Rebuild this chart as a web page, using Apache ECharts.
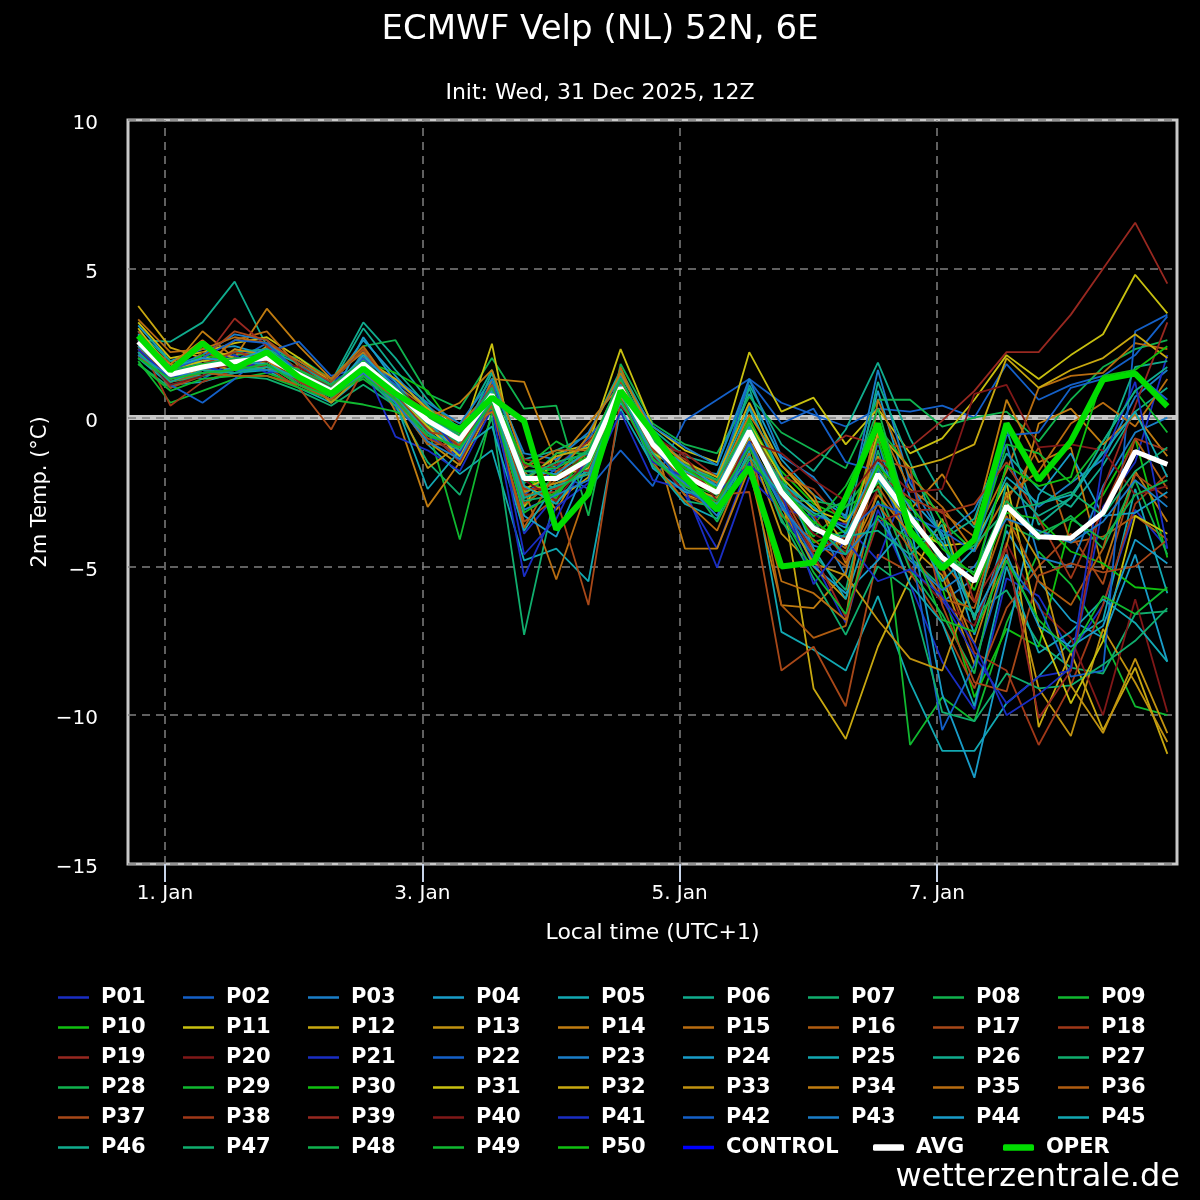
<!DOCTYPE html>
<html>
<head>
<meta charset="utf-8">
<title>ECMWF Velp (NL) 52N, 6E</title>
<script src="https://cdn.jsdelivr.net/npm/echarts@6/dist/echarts.min.js"></script>
<style>
  html, body { margin: 0; padding: 0; background: #000; }
  #main { width: 1200px; height: 1200px; }
</style>
</head>
<body>
<div id="main"></div>
<script>
// forecast steps, hours after 1 Jan 00:00 local time (31 Dec 18Z .. 8 Jan 18Z)
var hours = [-5, 1, 7, 13, 19, 25, 31, 37, 43, 49, 55, 61, 67, 73, 79, 85, 91,
    97, 103, 109, 115, 121, 127, 133, 139, 145, 151, 157, 163, 169, 175, 181, 187];

// x axis tick labels
var tickHours = [0, 48, 96, 144];
var tickLabels = ['1. Jan', '3. Jan', '5. Jan', '7. Jan'];

// 2m temperature, ensemble members (°C)
var p01 = [2.2, 1.2, 1.5, 2.1, 2.3, 1.6, 1.0, 1.5, 0.3, -0.6, -1.3, 0.4, -3.9, -2.6, -1.0, 0.6, -1.2, -2.6, -4.4, -1.5, -3.2, -4.8, -6.9, -3.1, -5.6, -8.2, -9.8, -5.4, -6.0, -7.9, -6.3, -3.1, -4.4];
var p02 = [2.9, 1.6, 1.3, 1.9, 2.5, 1.8, 0.7, 2.0, 1.2, 0.4, -0.5, 1.2, -1.6, -1.8, -2.4, -1.1, -2.3, -0.1, 0.6, 1.3, 0.5, 0.1, -0.3, 0.3, 0.2, 0.4, 0.0, 1.8, 0.6, 1.1, 1.4, 2.1, 3.4];
var p03 = [2.4, 1.4, 2.0, 1.7, 1.8, 1.2, 0.6, 2.2, 1.0, -0.4, -1.0, 0.9, -2.7, -2.3, -1.8, 1.2, -1.3, -2.2, -2.9, 0.4, -2.1, -3.4, -5.3, -0.8, -4.4, -6.2, -5.4, -1.6, -3.0, -2.2, -1.4, 0.7, 1.6];
var p04 = [3.1, 1.9, 2.3, 2.4, 2.1, 1.5, 1.1, 2.6, 1.4, 0.2, -0.3, 0.5, -2.2, -1.6, -0.9, 0.9, -0.7, -1.7, -1.9, 0.8, -1.4, -2.6, -3.3, 0.9, -2.7, -3.9, -7.3, -3.8, -5.5, -6.8, -7.4, -4.6, -8.2];
var p05 = [2.0, 1.1, 1.2, 1.5, 1.6, 1.0, 0.5, 1.4, 0.6, -0.9, -1.9, -1.1, -4.8, -4.4, -5.5, 0.3, -1.6, -2.9, -3.4, -1.1, -7.2, -7.8, -8.5, -6.0, -8.9, -11.2, -11.2, -9.6, -8.7, -7.5, -6.8, -2.4, -5.9];
var p06 = [2.6, 2.55, 3.2, 4.57, 2.4, 1.9, 1.2, 3.2, 2.0, 0.6, -0.4, 1.6, -1.4, -1.1, -0.6, 1.6, -0.4, -1.3, -1.6, 1.1, -0.9, -1.8, -0.4, 1.85, -0.7, -2.6, -3.7, -1.2, -2.4, -3.0, -1.6, 0.2, 1.0];
var p07 = [1.8, 1.0, 1.6, 1.4, 1.3, 0.9, 0.4, 1.1, 0.4, -1.5, -2.6, 0.0, -7.3, -2.4, -1.6, 1.1, -1.4, -2.1, -2.8, -0.7, -3.5, -4.6, -5.8, -1.1, -4.7, -5.7, -6.6, -5.8, -7.6, -8.4, -8.6, -6.6, -6.5];
var p08 = [2.3, 1.7, 1.9, 2.1, 2.2, 2.0, 1.3, 2.4, 2.6, 0.8, 0.3, 2.0, 0.3, 0.4, -3.3, 1.8, -0.2, -0.9, -1.2, 0.7, -0.5, -1.1, -1.7, 0.6, 0.6, -0.3, 0.0, 0.2, -0.8, 0.6, 1.7, 2.3, 2.6];
var p09 = [1.9, 0.5, 0.9, 1.3, 1.5, 1.1, 0.8, 1.3, 0.5, -0.3, -4.1, 0.2, -3.0, -1.9, -1.1, 0.7, -0.8, -2.3, -2.9, -0.9, -2.6, -4.0, -3.0, -1.6, -11.0, -9.4, -10.2, -6.9, -4.5, -5.6, -7.4, -9.7, -10.0];
var p10 = [2.1, 1.3, 1.5, 1.6, 1.9, 1.4, 1.0, 1.9, 1.5, 0.9, -0.6, 0.6, -2.5, -1.5, -1.5, 0.8, -1.0, -1.5, -2.1, -0.3, -1.8, -2.9, -3.4, -2.2, -2.8, -5.7, -9.4, -7.1, -7.7, -3.5, -2.6, -0.7, -4.7];
var p11 = [3.2, 2.0, 2.2, 2.5, 2.7, 2.0, 1.2, 2.3, 0.9, 0.1, -0.8, 2.48, -3.0, -1.2, -0.9, 2.3, -0.3, -1.1, -1.5, 2.2, 0.2, 0.67, -0.9, 0.3, -1.2, -0.7, 0.6, 2.1, 1.3, 2.1, 2.8, 4.8, 3.5];
var p12 = [3.75, 2.35, 2.0, 2.2, 2.0, 1.5, 0.9, 1.6, 0.8, -0.2, -1.1, 1.0, -2.3, -2.8, -2.0, 1.3, -1.1, -2.6, -2.9, -0.5, -2.4, -9.1, -10.8, -7.7, -5.4, -3.4, -6.8, -2.5, -10.4, -7.9, -10.5, -8.4, -11.3];
var p13 = [2.7, 1.5, 1.8, 1.6, 2.4, 1.6, 0.7, 1.7, 0.6, -0.8, -1.6, 0.4, -1.8, -3.1, -1.3, 0.9, -1.2, -2.3, -2.8, -0.9, -3.9, -5.0, -6.1, -1.3, -4.3, -5.3, -8.3, -4.6, -9.1, -10.7, -7.1, -8.9, -10.9];
var p14 = [2.2, 1.6, 2.9, 2.0, 3.66, 2.4, 1.3, 2.2, 0.2, -3.0, -1.5, 1.3, 1.2, -1.5, -0.2, 1.1, -0.6, -4.4, -4.4, -1.7, -6.3, -6.4, -5.2, -0.6, -3.1, -1.9, -3.6, 0.6, -1.5, -1.0, -5.1, -1.8, -3.5];
var p15 = [2.8, 1.8, 1.7, 2.6, 2.9, 1.7, 1.1, 1.8, 1.1, 0.3, -0.2, 0.9, -2.4, -5.44, -2.3, 1.7, -0.9, -1.8, -2.3, -0.4, -2.2, -3.6, -4.4, -0.2, -2.4, -3.2, -4.0, -1.8, 1.0, 1.4, 1.5, 2.5, 2.3];
var p16 = [2.5, 1.3, 2.2, 1.9, 2.1, 1.3, 0.9, 2.0, 0.8, -0.3, -0.9, 0.6, -2.9, -2.1, -1.6, 1.1, -1.1, -2.6, -3.1, -0.6, -6.3, -7.4, -7.0, -2.3, -4.0, -4.8, -6.2, -2.8, -1.0, -4.2, -4.0, -3.3, -4.1];
var p17 = [2.4, 1.0, 1.4, 2.3, 1.7, 1.0, -0.4, 1.6, 0.7, -0.7, -1.2, 0.3, -3.5, -2.7, -6.3, 0.6, -1.5, -2.0, -2.6, -2.5, -8.5, -7.7, -9.7, -4.6, -5.2, -6.9, -9.1, -6.4, -5.0, -3.9, -5.6, -1.9, -2.7];
var p18 = [2.6, 0.4, 1.2, 1.6, 1.8, 1.2, 0.8, 1.5, 1.1, 0.0, -0.7, 0.8, -1.9, -2.4, -1.0, 1.0, -0.8, -1.4, -2.2, -0.1, -2.0, -2.4, -3.6, -1.7, -3.3, -5.1, -7.9, -8.5, -11.0, -9.0, -6.3, -2.9, -1.9];
var p19 = [2.0, 1.4, 1.9, 3.33, 2.4, 1.6, 1.0, 1.9, 0.9, -0.2, -0.5, 0.5, -1.4, -1.6, -0.8, 0.4, -0.9, -1.2, -2.0, -0.8, -2.1, -1.4, -0.6, -0.9, -1.0, -0.1, 0.9, 2.2, 2.2, 3.46, 5.0, 6.55, 4.5];
var p20 = [2.3, 1.2, 1.6, 1.8, 2.0, 1.4, 0.9, 1.9, 1.0, -0.2, -0.8, 0.9, -2.0, -1.9, -1.3, 0.8, -1.3, -2.5, -3.0, -1.0, -2.7, -3.9, -4.5, -2.4, -5.0, -6.2, -7.0, -4.2, -6.4, -7.4, -10.0, -6.1, -9.9];
var p21 = [2.5, 1.5, 1.9, 2.1, 1.5, 1.7, 1.2, 1.8, -0.64, -1.1, -1.8, 0.3, -5.34, -3.0, -2.2, 0.2, -2.1, -2.4, -5.04, -2.0, -3.1, -3.3, -3.6, -4.8, -1.9, -6.1, -8.0, -9.6, -8.7, -8.5, -3.0, -1.5, 2.1];
var p22 = [2.2, 1.1, 0.5, 1.3, 2.2, 2.55, 1.4, 1.7, 0.7, -0.5, -1.4, 0.5, -2.6, -1.7, -0.7, 0.7, -0.5, -1.9, -2.2, 1.25, -0.2, 0.3, -1.5, -1.8, -4.2, -10.5, -8.3, -4.8, -6.3, -8.7, -8.5, 2.9, 3.46];
var p23 = [2.8, 1.7, 2.1, 2.8, 2.6, 1.4, 0.8, 1.9, 1.3, 0.5, -0.2, 1.3, -1.2, -1.4, -0.5, 1.4, -0.3, -1.0, -1.6, 1.3, -1.3, -2.0, -3.4, 1.6, -2.2, -4.0, -3.1, -0.9, -4.7, -5.0, -2.3, -0.5, 0.0];
var p24 = [2.4, 1.3, 1.7, 1.9, 1.8, 1.1, 0.6, 2.7, 1.2, -0.1, -1.3, 0.7, -3.3, -4.0, -1.5, 1.0, -1.7, -2.5, -2.7, -0.4, -2.8, -5.0, -5.9, -4.8, -3.5, -9.3, -12.1, -7.4, -2.6, -1.2, -3.3, -3.2, -2.5];
var p25 = [2.1, 1.5, 1.4, 1.7, 1.9, 1.2, 0.7, 1.6, 0.5, -2.4, -1.1, -0.3, -3.8, -2.2, -1.7, 0.5, -1.0, -1.6, -2.1, 0.3, -1.9, -4.4, -6.1, -2.8, -5.6, -6.9, -9.7, -5.0, -7.9, -7.2, -6.1, -6.9, -8.2];
var p26 = [2.9, 1.9, 1.8, 2.2, 2.3, 1.8, 1.1, 3.0, 1.6, 0.4, -0.9, 1.5, -1.9, -2.4, -1.8, 1.5, -0.6, -1.5, -2.4, 1.0, -2.3, -3.0, -3.9, 1.2, -1.5, -4.1, -3.4, -0.4, -3.6, -2.7, -1.1, 1.7, 1.9];
var p27 = [2.0, 1.2, 1.4, 1.6, 1.7, 1.5, 1.0, 1.4, 0.4, -0.6, -1.0, 0.4, -2.8, -2.6, -1.4, 0.9, -1.6, -2.8, -3.0, -0.9, -3.4, -5.4, -7.3, -5.0, -5.8, -9.9, -10.2, -8.6, -9.1, -9.0, -8.3, -7.5, -6.4];
var p28 = [2.3, 1.4, 1.7, 1.8, 2.3, 1.6, 0.9, 2.1, 1.0, -0.4, -0.8, 1.1, -2.2, -1.2, -1.2, 1.3, -0.7, -2.0, -3.5, -1.4, -2.8, -2.8, -3.0, -2.4, -5.1, -6.6, -8.6, -3.6, -4.1, -3.3, -4.4, -2.1, -4.6];
var p29 = [1.8, 0.9, 1.3, 1.4, 1.4, 1.0, 0.6, 0.44, 0.2, -0.3, -0.3, 0.3, -1.7, -0.8, -1.4, 1.2, -1.2, -1.5, -2.5, 0.0, -2.3, -3.6, -2.3, -0.3, -1.7, -3.5, -4.5, -0.9, -1.2, -2.2, -0.8, 0.9, -0.5];
var p30 = [2.6, 1.5, 2.1, 1.9, 2.0, 1.6, 0.8, 1.8, 0.8, -0.1, -0.7, 0.8, -2.0, -2.7, -1.0, 1.1, -0.8, -2.2, -2.6, -0.1, -2.0, -4.2, -3.8, -0.7, -4.0, -4.2, -5.8, -3.2, -3.4, -4.5, -4.9, -5.7, -5.8];
var p31 = [3.0, 1.6, 1.9, 2.0, 1.9, 1.3, 0.7, 1.8, 0.8, -0.3, -1.3, 0.9, -2.4, -1.9, -1.7, 0.8, -1.2, -1.8, -2.4, -0.2, -2.0, -3.1, -3.5, -2.1, -3.6, -4.3, -4.2, -2.2, -7.0, -9.6, -7.5, -3.3, -3.9];
var p32 = [2.7, 1.7, 2.4, 2.0, 1.6, 1.7, 1.0, 2.0, 1.3, 0.3, -0.6, 1.0, -2.1, -1.3, -1.0, 1.2, -0.7, -1.5, -2.0, 0.5, -1.6, -2.8, -4.3, -0.5, -1.7, -1.4, -0.9, 2.0, 1.0, 1.6, 2.0, 2.8, 2.0];
var p33 = [2.5, 1.3, 1.6, 2.3, 2.1, 1.5, 0.5, 1.5, 0.6, -1.7, -0.9, 0.7, -2.5, -2.2, -1.9, 0.7, -1.4, -2.3, -2.7, -0.7, -3.0, -4.9, -5.3, -6.8, -8.1, -8.5, -5.4, -3.0, -4.8, -9.0, -10.6, -8.1, -10.6];
var p34 = [2.3, 1.8, 2.6, 1.7, 1.9, 1.3, 1.0, 1.9, 0.9, 0.0, 0.5, 1.6, -1.5, -2.0, -0.6, 1.5, -0.5, -1.6, -2.2, 0.1, -1.6, -2.6, -4.9, -2.6, -3.9, -5.0, -7.6, -4.3, -0.2, 0.3, -0.9, 0.1, -1.3];
var p35 = [3.3, 2.2, 2.3, 2.7, 2.5, 1.9, 1.3, 2.4, 0.9, -0.1, -0.5, 0.2, -1.7, -1.1, -1.1, 1.0, -1.5, -2.8, -3.8, -1.2, -5.5, -5.9, -6.8, 0.6, -2.0, -3.0, -4.5, -2.6, -1.8, -0.2, 0.5, -0.3, 1.3];
var p36 = [2.1, 1.2, 1.5, 1.4, 1.4, 1.1, 0.6, 1.6, 0.6, -0.9, -0.9, 0.4, -3.7, -1.8, -1.2, 0.9, -1.0, -2.1, -2.9, -0.9, -3.3, -4.1, -5.0, -2.9, -4.4, -6.1, -6.4, -3.3, -5.5, -6.3, -4.4, -0.7, -2.4];
var p37 = [2.9, 1.6, 2.0, 2.9, 2.6, 1.8, 1.2, 2.3, 0.8, -0.5, -0.6, 1.1, -2.6, -2.5, -1.5, 1.2, -0.9, -1.8, -2.6, -0.6, -2.5, -4.5, -4.0, -1.4, -1.7, -6.3, -8.9, -9.2, -5.3, -4.9, -5.2, -5.0, -4.1];
var p38 = [2.4, 1.4, 1.8, 2.2, 2.0, 1.2, 0.7, 1.7, 0.9, -0.1, -1.0, 0.8, -2.4, -2.4, -1.6, 1.0, -1.1, -1.7, -2.6, -0.3, -2.2, -3.3, -4.8, -1.9, -2.7, -3.2, -2.9, -1.5, -3.4, -5.4, -3.1, -0.7, -1.1];
var p39 = [2.6, 1.2, 1.6, 1.8, 1.7, 1.3, 0.9, 1.7, 0.7, -0.4, -1.5, 0.6, -1.6, -1.7, -1.8, 0.6, -0.9, -1.7, -2.3, -0.9, -2.7, -4.6, -6.7, -3.5, -3.1, -3.1, -6.2, -4.4, -10.1, -8.5, -2.4, 0.4, 3.2];
var p40 = [2.3, 1.1, 1.4, 2.0, 1.9, 1.7, 1.0, 1.6, 1.0, 0.2, -0.4, 0.5, -2.1, -2.8, -1.3, 0.9, -0.6, -1.3, -2.8, -0.8, -1.2, -2.1, -2.8, -1.4, -2.5, -2.4, 0.8, 1.1, -1.0, -0.9, -1.1, -2.6, -2.3];
var p41 = [2.3, 1.3, 1.7, 1.5, 2.0, 1.4, 0.9, 1.7, 0.7, 0.1, -1.2, 0.8, -4.6, -3.4, -1.2, 0.9, -1.5, -2.0, -2.5, -1.6, -2.5, -5.6, -4.1, -5.5, -5.1, -6.0, -7.6, -10.0, -9.3, -8.4, -1.4, 1.2, -4.4];
var p42 = [2.6, 1.6, 2.0, 2.6, 2.5, 1.5, 0.8, 2.0, 1.1, -0.2, -0.5, 1.0, -2.0, -2.1, -1.4, 1.0, -0.9, -2.4, -3.1, -0.8, -2.9, -4.7, -3.9, -2.9, -3.3, -3.8, -4.5, -0.6, -0.5, 1.0, 1.3, 1.5, 0.6];
var p43 = [2.1, 1.4, 1.5, 1.6, 1.6, 1.4, 0.7, 1.5, 0.5, -0.8, -1.4, 0.6, -3.1, -2.6, -2.1, 1.0, -1.4, -2.2, -3.3, -0.9, -3.0, -4.3, -4.6, -3.4, -4.8, -5.8, -5.0, -3.4, -3.8, -4.2, -3.5, -2.1, -3.0];
var p44 = [2.8, 1.7, 2.0, 1.9, 2.3, 1.5, 0.9, 2.1, 1.0, 0.0, -0.6, 0.9, -1.8, -1.9, -1.1, 1.1, -0.8, -1.6, -2.3, -0.3, -2.4, -3.2, -3.7, -1.5, -3.0, -4.2, -6.7, -4.6, -7.0, -7.7, -7.0, -4.1, -4.9];
var p45 = [2.4, 1.5, 1.8, 1.9, 1.8, 1.3, 0.8, 1.9, 0.8, -0.2, -0.8, 0.8, -2.3, -2.9, -1.5, 1.1, -0.9, -1.8, -2.3, -0.5, -2.2, -3.0, -3.9, -2.1, -3.4, -5.5, -4.4, -2.0, -2.9, -2.6, -1.2, 0.2, -2.0];
var p46 = [2.2, 1.2, 1.6, 1.5, 1.7, 1.3, 0.8, 1.6, 0.7, -0.5, -1.1, 0.6, -2.7, -2.3, -1.9, 0.8, -1.2, -2.4, -2.9, -1.3, -2.6, -3.8, -4.0, -3.8, -4.6, -3.6, -6.8, -2.2, -3.3, -2.7, -0.8, 0.9, 1.7];
var p47 = [2.5, 1.4, 1.7, 1.9, 2.1, 1.5, 1.0, 1.8, 0.9, -0.2, -0.7, 0.7, -2.0, -1.5, -1.2, 1.0, -0.9, -1.9, -2.6, -0.6, -2.2, -3.6, -4.6, -1.7, -3.2, -4.9, -4.3, -3.1, -2.9, -2.5, -3.3, -1.8, -1.0];
var p48 = [2.7, 1.6, 1.8, 2.0, 2.0, 1.6, 1.1, 1.9, 1.0, 0.1, -0.6, 1.0, -1.8, -1.7, -1.1, 1.3, -0.7, -1.7, -2.1, -0.2, -2.5, -3.3, -2.8, 0.3, -3.5, -4.7, -5.2, -2.8, -3.9, -3.4, -4.1, -2.6, -2.1];
var p49 = [2.0, 1.3, 1.5, 1.6, 1.8, 1.1, 0.7, 1.4, 0.6, -0.6, -1.0, 0.5, -3.2, -2.5, -1.6, 0.6, -1.4, -2.3, -2.8, -1.0, -3.2, -5.2, -6.6, -3.3, -4.1, -6.8, -7.2, -4.8, -6.8, -7.9, -6.0, -6.6, -5.7];
var p50 = [2.5, 1.5, 1.8, 1.8, 2.2, 1.4, 0.9, 1.8, 0.9, 0.0, -0.5, 0.8, -1.5, -2.0, -1.3, 1.0, -0.8, -1.7, -2.4, -0.4, -2.4, -3.5, -4.2, -1.6, -2.9, -4.4, -5.3, -1.6, -2.3, -2.0, 1.4, 1.6, 2.4];

// control run (not drawn in this forecast), ensemble mean and operational run
var control = [];
var avg = [2.55, 1.45, 1.7, 1.88, 2.0, 1.45, 0.9, 1.8, 0.9, -0.1, -0.74, 0.77, -2.05, -2.05, -1.41, 1.0, -0.9, -1.95, -2.52, -0.45, -2.5, -3.72, -4.22, -1.9, -3.35, -4.7, -5.5, -2.97, -4.0, -4.05, -3.2, -1.14, -1.57];
var oper = [2.75, 1.58, 2.5, 1.65, 2.2, 1.35, 0.8, 1.65, 0.8, 0.15, -0.4, 0.67, -0.12, -3.76, -2.55, 0.9, -0.5, -2.0, -3.1, -1.67, -5.0, -4.87, -2.7, -0.2, -3.8, -5.07, -4.1, -0.2, -2.1, -0.8, 1.28, 1.48, 0.38];

var members = [p01, p02, p03, p04, p05, p06, p07, p08, p09, p10,
    p11, p12, p13, p14, p15, p16, p17, p18, p19, p20,
    p21, p22, p23, p24, p25, p26, p27, p28, p29, p30,
    p31, p32, p33, p34, p35, p36, p37, p38, p39, p40,
    p41, p42, p43, p44, p45, p46, p47, p48, p49, p50];

// member colours repeat every 20 runs
var palette = ['#1a2ec4', '#1460c8', '#1a7ec8', '#189cc8', '#12a8b2', '#10ac8e', '#10ae6e', '#10b24e', '#10b830', '#10c010',
    '#c8c010', '#c8a810', '#c09210', '#c07c10', '#b86c10', '#b05c10', '#a84818', '#a03818', '#982820', '#801818'];

var font = 'DejaVu Sans';

var pts = function (vals) {
    return vals.map(function (v, i) { return [hours[i], v]; });
};

var series = [];
var legends = [];

var addLegend = function (name, left, top, icon, h) {
    legends.push({
        data: [name],
        left: left,
        top: top,
        padding: 0,
        icon: icon,
        itemWidth: 31,
        itemHeight: h,
        selectedMode: false,
        textStyle: {color: '#ffffff', fontFamily: font, fontWeight: 'bold', fontSize: 21, padding: [0, 0, 0, 7]}
    });
};

// helper series: vertical grid lines and the 0 °C line
var dash = {color: '#808080', width: 1.5, type: [8, 6]};
series.push({
    name: 'grid',
    type: 'line',
    data: [],
    symbol: 'none',
    silent: true,
    markLine: {
        silent: true,
        symbol: 'none',
        z: 1,
        label: {show: false},
        emphasis: {disabled: true},
        data: [
            {xAxis: 0, lineStyle: dash},
            {xAxis: 48, lineStyle: dash},
            {xAxis: 96, lineStyle: dash},
            {xAxis: 144, lineStyle: dash},
            {yAxis: 0, lineStyle: {color: '#c8c8c8', width: 5, type: 'solid'}},
            {yAxis: 0, lineStyle: dash}
        ]
    }
});

members.forEach(function (vals, k) {
    var name = 'P' + (k < 9 ? '0' : '') + (k + 1);
    var col = palette[k % 20];
    series.push({
        name: name,
        type: 'line',
        data: pts(vals),
        symbol: 'none',
        silent: true,
        z: 3,
        color: col,
        lineStyle: {width: 1.8, color: col}
    });
    addLegend(name, 58 + (k % 9) * 125, 987 + Math.floor(k / 9) * 30, 'rect', 2.5);
});

series.push({name: 'CONTROL', type: 'line', data: pts(control), symbol: 'none', silent: true, z: 4,
    color: '#0000ff', lineStyle: {width: 4, color: '#0000ff'}});
series.push({name: 'AVG', type: 'line', data: pts(avg), symbol: 'none', silent: true, z: 5,
    color: '#ffffff', lineStyle: {width: 5, color: '#ffffff'}});
series.push({name: 'OPER', type: 'line', data: pts(oper), symbol: 'none', silent: true, z: 6,
    color: '#00dd00', lineStyle: {width: 6, color: '#00dd00'}});

addLegend('CONTROL', 683, 1137, 'rect', 3.5);
addLegend('AVG', 873, 1137, 'roundRect', 6.5);
addLegend('OPER', 1003, 1137, 'roundRect', 6.5);

var minus = function (v) {
    return v < 0 ? '\u2212' + (-v) : String(v);
};

var chart = echarts.init(document.getElementById('main'), null, {renderer: 'canvas'});
chart.setOption({
    backgroundColor: '#000000',
    animation: false,
    title: [{
        text: 'ECMWF Velp (NL) 52N, 6E',
        left: 'center',
        top: 8,
        textStyle: {color: '#ffffff', fontFamily: font, fontWeight: 'normal', fontSize: 34}
    }, {
        text: 'Init: Wed, 31 Dec 2025, 12Z',
        left: 'center',
        top: 77,
        textStyle: {color: '#ffffff', fontFamily: font, fontWeight: 'normal', fontSize: 22}
    }],
    legend: legends,
    grid: {left: 128, right: 23, top: 120, bottom: 336, show: true, borderColor: '#c8c8c8', borderWidth: 3, backgroundColor: '#000000'},
    xAxis: {
        type: 'value',
        min: -6.9,
        max: 188.8,
        name: 'Local time (UTC+1)',
        nameLocation: 'middle',
        nameGap: 58,
        nameTextStyle: {color: '#ffffff', fontFamily: font, fontSize: 22},
        axisLine: {show: false, onZero: false},
        axisTick: {show: true, customValues: tickHours, length: 18, lineStyle: {color: '#c8d4e8', width: 2}},
        axisLabel: {
            customValues: tickHours,
            color: '#ffffff', fontFamily: font, fontSize: 20, margin: 20,
            formatter: function (v) { return tickLabels[tickHours.indexOf(v)] || ''; }
        },
        splitLine: {show: false}
    },
    yAxis: {
        type: 'value',
        min: -15,
        max: 10,
        interval: 5,
        name: '2m Temp. (\u00b0C)',
        nameLocation: 'middle',
        nameGap: 77,
        nameMoveOverlap: false,
        nameTextStyle: {color: '#ffffff', fontFamily: font, fontSize: 21},
        axisLine: {show: false},
        axisTick: {show: false},
        axisLabel: {color: '#ffffff', fontFamily: font, fontSize: 20, margin: 30, verticalAlign: 'top', lineHeight: 8, formatter: minus},
        splitLine: {show: true, lineStyle: dash}
    },
    graphic: [{
        type: 'text',
        right: 20,
        top: 1162,
        style: {text: 'wetterzentrale.de', fill: '#ffffff', font: '32px "DejaVu Sans"'}
    }],
    series: series
});
</script>
</body>
</html>
